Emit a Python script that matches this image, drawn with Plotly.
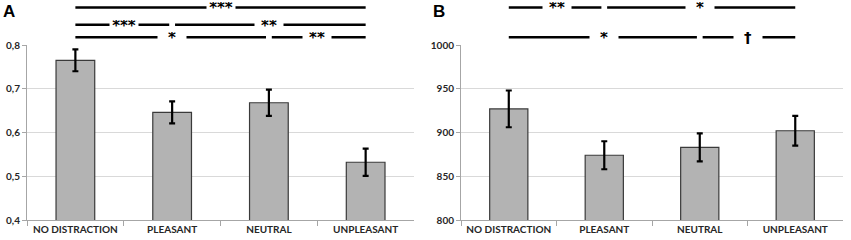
import plotly.graph_objects as go

categories = ["NO DISTRACTION", "PLEASANT", "NEUTRAL", "UNPLEASANT"]

a_values = [0.765, 0.646, 0.668, 0.532]
a_errors = [0.025, 0.025, 0.030, 0.031]
a_tickvals = [0.4, 0.5, 0.6, 0.7, 0.8]
a_ticktext = ["0,4", "0,5", "0,6", "0,7", "0,8"]
# (from index, to index, label, row) row 0 = top
a_comparisons = [(0, 3, "***", 0), (0, 1, "***", 1), (1, 3, "**", 1),
                 (0, 2, "*", 2), (2, 3, "**", 2)]

b_values = [927, 874, 883, 902]
b_errors = [21, 16, 16, 17]
b_tickvals = [800, 850, 900, 950, 1000]
b_ticktext = ["800", "850", "900", "950", "1000"]
b_comparisons = [(0, 1, "**", 0), (1, 3, "*", 0),
                 (0, 2, "*", 2), (2, 3, "†", 2)]

row_y = [1.215, 1.116, 1.044]

fig = go.Figure()
font_family = "Lato, 'Open Sans', sans-serif"

for vals, errs, xa, ya in [(a_values, a_errors, "x", "y"), (b_values, b_errors, "x2", "y2")]:
    fig.add_trace(go.Bar(
        x=categories, y=vals, xaxis=xa, yaxis=ya,
        marker=dict(color="#b3b3b3", line=dict(color="#3a3a3a", width=1.2)),
        error_y=dict(type="data", array=errs, color="black", thickness=2.2, width=3),
        showlegend=False,
    ))

shapes = []
annotations = []
for comps, xref in [(a_comparisons, "x"), (b_comparisons, "x2")]:
    for i, j, lab, row in comps:
        x0 = i + (0.03 if i > 0 else 0.0)
        x1 = j - (0.03 if j < 3 else 0.0)
        y = row_y[row]
        shapes.append(dict(type="line", xref=xref, yref="paper", x0=x0, x1=x1, y0=y, y1=y,
                           line=dict(color="black", width=2.5)))
        annotations.append(dict(xref=xref, yref="paper", x=(i + j) / 2, y=y, text="<b>" + lab + "</b>",
                                showarrow=False, bgcolor="white", width=26, height=12,
                                font=dict(size=15, color="black", family="DejaVu Sans"),
                                xanchor="center", yanchor="middle", yshift=-1))

annotations.append(dict(xref="paper", yref="paper", x=-0.022, y=1.19, text="<b>A</b>", showarrow=False,
                        font=dict(size=17, color="black", family="Liberation Sans"), xanchor="center", yanchor="middle"))
annotations.append(dict(xref="paper", yref="paper", x=0.505, y=1.19, text="<b>B</b>", showarrow=False,
                        font=dict(size=17, color="black", family="Liberation Sans"), xanchor="center", yanchor="middle"))

axis_common = dict(showline=True, linecolor="#a6a6a6", linewidth=1, automargin=False,
                   tickfont=dict(family=font_family, size=10, color="#262626", weight="bold"))

fig.update_layout(
    width=851, height=240,
    margin=dict(l=27, r=8, t=45, b=20),
    plot_bgcolor="white", paper_bgcolor="white",
    bargap=0.6,
    shapes=shapes, annotations=annotations,
    xaxis=dict(domain=[0, 0.4743], anchor="y", ticks="outside", tickson="boundaries", ticklen=5,
               tickcolor="#a6a6a6", range=[-0.5, 3.5], tickangle=0, **axis_common),
    xaxis2=dict(domain=[0.5319, 1], anchor="y2", ticks="outside", tickson="boundaries", ticklen=5,
                tickcolor="#a6a6a6", range=[-0.5, 3.5], tickangle=0, **axis_common),
    yaxis=dict(range=[0.4, 0.8], tickvals=a_tickvals, ticktext=a_ticktext, showgrid=True,
               gridcolor="#d9d9d9", ticks="outside", ticklen=4, tickcolor="#a6a6a6", zeroline=False,
               **axis_common),
    yaxis2=dict(range=[800, 1000], tickvals=b_tickvals, ticktext=b_ticktext, showgrid=True,
                gridcolor="#d9d9d9", ticks="outside", ticklen=4, tickcolor="#a6a6a6", zeroline=False,
                anchor="x2", **axis_common),
)

fig.write_html("out.html", config={"displayModeBar": False},
               post_script="document.body.style.margin='0';document.body.style.overflow='hidden';")
